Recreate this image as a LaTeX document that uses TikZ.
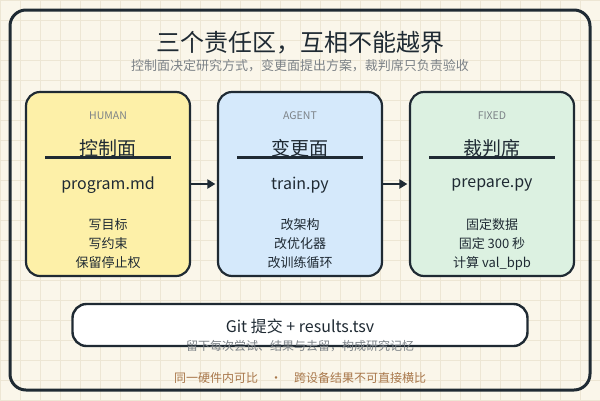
\documentclass[tikz,border=0pt]{standalone}
\usepackage{fontspec}
\setmainfont{Noto Sans CJK SC}
\usetikzlibrary{arrows.meta}
\definecolor{bg}{HTML}{FAF6EA}
\definecolor{gridc}{HTML}{EDE6D4}
\definecolor{ink}{HTML}{1F2A33}
\definecolor{muted}{HTML}{7C8287}
\definecolor{warm}{HTML}{A8774A}
\definecolor{yfill}{HTML}{FDF0A8}
\definecolor{bfill}{HTML}{D5E9FB}
\definecolor{gfill}{HTML}{DCF1E1}
\tikzset{
  zone/.style={draw=ink, line width=2.2pt, rounded corners=14pt, minimum width=164pt, minimum height=184pt, inner sep=0pt},
  tag/.style={text=muted, font=\fontsize{10.5}{12}\selectfont},
  zonetitle/.style={text=ink, font=\fontsize{19}{22}\selectfont},
  filename/.style={text=ink, font=\fontsize{16}{19}\selectfont},
  duty/.style={text=ink, font=\fontsize{13}{19}\selectfont, align=center},
  rule/.style={draw=ink, line width=2.2pt},
  flow/.style={draw=ink, line width=2.8pt, -{Triangle[length=8pt,width=9pt]}},
}
\begin{document}
\begin{tikzpicture}[x=1pt,y=-1pt]
\useasboundingbox (0,0) rectangle (600,400);
\fill[bg] (0,0) rectangle (600,400);
\draw[gridc, line width=0.8pt] (0,0) grid[step=20pt] (600,400);
% outer frame
\node[draw=ink, line width=3pt, rounded corners=16pt, minimum width=580pt, minimum height=380pt, inner sep=0pt] (frame) at (300,200) {};
% titles
\node[text=ink, font=\fontsize{24}{28}\selectfont] (title) at (300,43) {三个责任区，互相不能越界};
\node[text=muted, font=\fontsize{13}{15}\selectfont] (subtitle) at (300,66) {控制面决定研究方式，变更面提出方案，裁判席只负责验收};
% zones
\node[zone, fill=yfill] (human) at (108,184) {};
\node[zone, fill=bfill] (agent) at (300,184) {};
\node[zone, fill=gfill] (fixed) at (492,184) {};
% human content
\node[tag] (h1) at (108,116) {HUMAN};
\node[zonetitle] (h2) at (108,148) {控制面};
\draw[rule] (45,157.5) coordinate (hl1) -- (171,157.5) coordinate (hl2);
\node[filename] (h3) at (108,185) {program.md};
\node[duty] (h4) at (108,244) {写目标\\写约束\\保留停止权};
% agent content
\node[tag] (a1) at (300,116) {AGENT};
\node[zonetitle] (a2) at (300,148) {变更面};
\draw[rule] (237,157.5) coordinate (al1) -- (363,157.5) coordinate (al2);
\node[filename] (a3) at (300,185) {train.py};
\node[duty] (a4) at (300,244) {改架构\\改优化器\\改训练循环};
% fixed content
\node[tag] (f1) at (492,116) {FIXED};
\node[zonetitle] (f2) at (492,148) {裁判席};
\draw[rule] (429,157.5) coordinate (fl1) -- (555,157.5) coordinate (fl2);
\node[filename] (f3) at (492,185) {prepare.py};
\node[duty] (f4) at (492,244) {固定数据\\固定 300 秒\\计算 val\_bpb};
% arrows
\draw[flow] (human.east |- 0,184) -- ([xshift=-1.5pt]agent.west |- 0,184);
\draw[flow] (agent.east |- 0,184) -- ([xshift=-1.5pt]fixed.west |- 0,184);
% git box
\node[draw=ink, fill=white, line width=2.4pt, rounded corners=14pt, minimum width=455pt, minimum height=42pt, inner sep=0pt] (git) at (300,325) {};
\node[text=ink, font=\fontsize{16}{19}\selectfont] (gittext) at (300,326) {Git 提交 + results.tsv};
\node[text=muted, font=\fontsize{12}{14}\selectfont] (gitsub) at (300,346) {留下每次尝试、结果与去留，构成研究记忆};
% footer
\node[text=warm, font=\fontsize{12}{14}\selectfont] (footer) at (300,378) {同一硬件内可比\hspace{12pt}\char"00B7\hspace{12pt}跨设备结果不可直接横比};
\end{tikzpicture}
\end{document}
